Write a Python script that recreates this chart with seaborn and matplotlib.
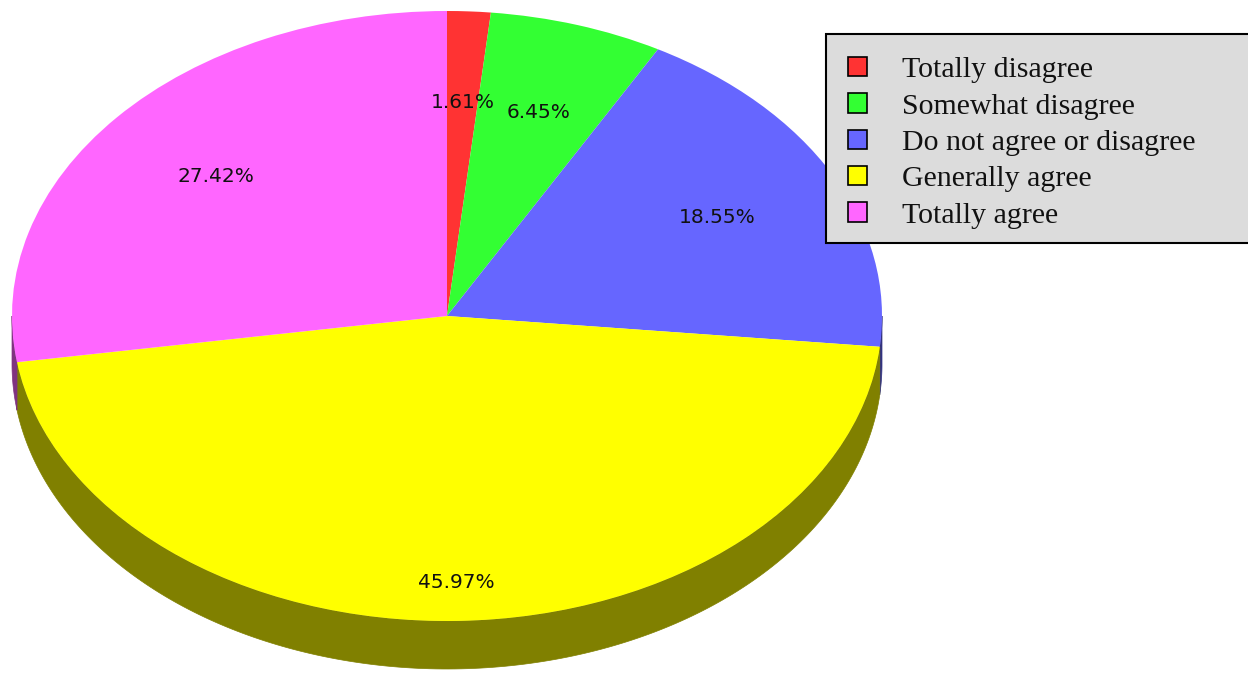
import numpy as np
import matplotlib
matplotlib.use("Agg")
import matplotlib.pyplot as plt
import seaborn as sns
from matplotlib.patches import Polygon, Patch, Rectangle

# ---- data ----
categories = ["Totally disagree", "Somewhat disagree", "Do not agree or disagree",
              "Generally agree", "Totally agree"]
percentages = [1.61, 6.45, 18.55, 45.97, 27.42]
top_colors = ["#ff3333", "#33ff33", "#6666ff", "#ffff00", "#ff66ff"]
side_colors = ["#801a1a", "#1a801a", "#333380", "#808000", "#803380"]
label_dist = [0.7, 0.7, 0.7, 0.875, 0.7]

sns.set_theme(style="white")
plt.rcParams["font.family"] = ["DejaVu Sans"]

W, H = 1248, 673
fig = plt.figure(figsize=(W / 100, H / 100), dpi=100)
ax = fig.add_axes([0, 0, 1, 1])

cx_px, cy_px = 447, 316
rx_px, ry_px = 435, 305
depth = 48 / ry_px

wedges, _ = ax.pie(percentages, colors=top_colors, startangle=90, counterclock=False,
                   radius=1, wedgeprops=dict(linewidth=0, zorder=2))

# 3D side of the pie (visible lower half)
for w, c in zip(wedges, side_colors):
    t1, t2 = w.theta1, w.theta2
    for k in (-1, 0, 1):
        lo = max(t1, 180 + 360 * k)
        hi = min(t2, 360 + 360 * k)
        if hi > lo:
            th = np.deg2rad(np.linspace(lo, hi, 200))
            xs = np.cos(th)
            ys = np.sin(th)
            pts = np.concatenate([np.column_stack([xs, ys]),
                                  np.column_stack([xs[::-1], ys[::-1] - depth])])
            ax.add_patch(Polygon(pts, closed=True, facecolor=c, edgecolor=c,
                                 linewidth=0.5, zorder=1))

# percentage labels
for w, p, d in zip(wedges, percentages, label_dist):
    mid = np.deg2rad((w.theta1 + w.theta2) / 2)
    ax.text(d * np.cos(mid), d * np.sin(mid), f"{p:.2f}%", ha="center", va="center",
            fontsize=14.5, color="#111111", zorder=3)

ax.set_aspect("auto")
ax.set_xlim(-cx_px / rx_px, (W - cx_px) / rx_px)
ax.set_ylim(-(H - cy_px) / ry_px, cy_px / ry_px)
ax.axis("off")

# legend background box
fig.patches.append(Rectangle((826 / W, 1 - 243 / H), (W - 826 + 20) / W, (243 - 34) / H,
                             transform=fig.transFigure, facecolor="#dcdcdc",
                             edgecolor="black", linewidth=1.5, zorder=1))

handles = [Patch(facecolor=c, edgecolor="black", linewidth=1.2) for c in top_colors]
leg = fig.legend(handles, categories, loc="upper left",
                 bbox_to_anchor=(848 / W, 1 - 57 / H), frameon=False,
                 prop={"family": "Liberation Serif", "size": 21.5},
                 handlelength=0.62, handleheight=0.62, handletextpad=1.2,
                 labelspacing=0.34, borderpad=0, borderaxespad=0)
for t in leg.get_texts():
    t.set_color("#111111")

fig.savefig("out.png", dpi=100, facecolor="white")
